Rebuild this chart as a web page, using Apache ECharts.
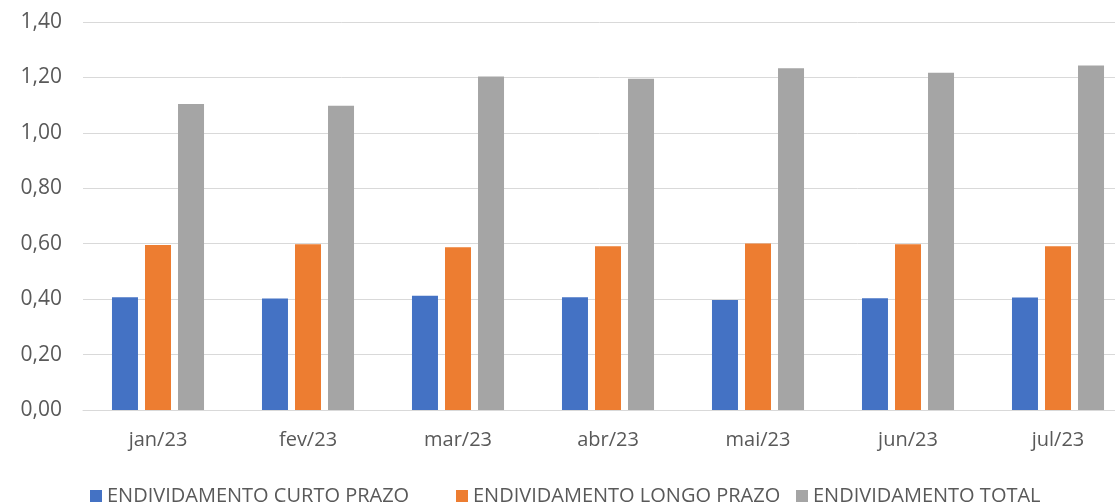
<!DOCTYPE html>
<html>
<head>
<meta charset="utf-8">
<script src="https://cdn.jsdelivr.net/npm/echarts@6/dist/echarts.min.js"></script>
<style>
    html, body { margin: 0; padding: 0; background: #fff; }
    #chart { width: 1115px; height: 504px; }
</style>
</head>
<body>
<div id="chart"></div>
<script>
// meses
const categories = ['jan/23', 'fev/23', 'mar/23', 'abr/23', 'mai/23', 'jun/23', 'jul/23']
// valores
const curtoPrazo = [0.407, 0.402, 0.412, 0.407, 0.397, 0.403, 0.406]
const longoPrazo = [0.595, 0.598, 0.587, 0.591, 0.601, 0.598, 0.591]
const total = [1.104, 1.098, 1.203, 1.195, 1.233, 1.217, 1.243]
const seriesNames = ['ENDIVIDAMENTO CURTO PRAZO', 'ENDIVIDAMENTO LONGO PRAZO', 'ENDIVIDAMENTO TOTAL']

const textColor = '#595959'
const font = '"Open Sans", sans-serif'

const myChart = echarts.init(document.getElementById('chart'))

function barSeries(name, data, color) {
    return {
        name: name,
        type: 'bar',
        data: data,
        barWidth: 26,
        barGap: '27%',
        itemStyle: { color: color }
    }
}

// uma legenda por item, para acertar a posição de cada marcador
const legendLeft = [85, 451, 791]
const legends = seriesNames.map((name, i) => ({
    data: [name],
    top: 481,
    left: legendLeft[i],
    itemWidth: 12,
    itemHeight: 12,
    icon: 'rect',
    textStyle: { color: textColor, fontSize: 20, fontFamily: font }
}))

const options = {
    animation: false,
    grid: {
        left: 83,
        top: 22,
        width: 1050,
        height: 388,
        outerBoundsMode: 'none'
    },
    legend: legends,
    xAxis: {
        type: 'category',
        data: categories,
        axisLine: { lineStyle: { color: '#d9d9d9', width: 1 } },
        axisTick: { length: 6, lineStyle: { color: '#d9d9d9' } },
        axisLabel: { color: textColor, fontSize: 20, fontFamily: font, margin: 20 }
    },
    yAxis: {
        type: 'value',
        min: 0,
        max: 1.4,
        interval: 0.2,
        axisLine: { show: false },
        axisTick: { show: false },
        splitLine: { lineStyle: { color: '#d9d9d9', width: 1 } },
        axisLabel: {
            color: textColor,
            fontSize: 21,
            fontFamily: font,
            margin: 21,
            formatter: v => v.toFixed(2).replace('.', ',')
        }
    },
    series: [
        barSeries(seriesNames[0], curtoPrazo, '#4472C4'),
        barSeries(seriesNames[1], longoPrazo, '#ED7D31'),
        barSeries(seriesNames[2], total, '#A5A5A5')
    ]
}
myChart.setOption(options)
</script>
</body>
</html>
